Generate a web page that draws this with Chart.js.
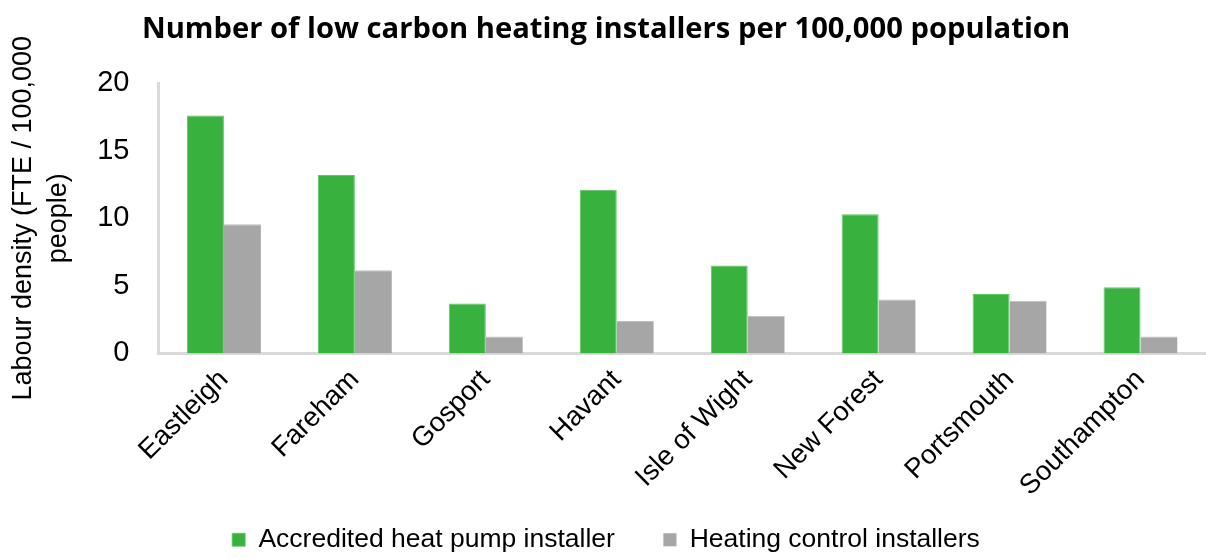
<html>
    <head>
        <meta charset="UTF-8">
        <title>Low carbon heating installers</title>
        <script src="https://cdn.jsdelivr.net/npm/chart.js"></script>
        <style>
            body { margin: 0; background: #ffffff; }
            .chart_container { width: 1206px; height: 559px; }
        </style>
    </head>
    <body>
        <div class='chart_container'>
            <canvas id='installers'></canvas>
        </div>
        <script>
            const areas = ['Eastleigh', 'Fareham', 'Gosport', 'Havant', 'Isle of Wight', 'New Forest', 'Portsmouth', 'Southampton'];
            const heatPump = [17.6, 13.2, 3.7, 12.1, 6.5, 10.3, 4.4, 4.9];
            const heatingControl = [9.55, 6.15, 1.25, 2.4, 2.8, 4.0, 3.9, 1.25];
            const yTicks = [0, 5, 10, 15, 20];

            const data = {
                labels: areas,
                datasets: [
                    {
                        label: 'Accredited heat pump installer',
                        data: heatPump,
                        backgroundColor: '#39b13f',
                        borderColor: '#5cc862',
                        borderWidth: { top: 1, left: 1, right: 1, bottom: 0 }
                    },
                    {
                        label: 'Heating control installers',
                        data: heatingControl,
                        backgroundColor: '#a6a6a6',
                        borderColor: '#bdbdbd',
                        borderWidth: { top: 1, left: 0, right: 0, bottom: 0 }
                    }
                ]
            };

            const config = {
                type: 'bar',
                data: data,
                options: {
                    responsive: true,
                    maintainAspectRatio: false,
                    animation: false,
                    layout: { padding: { left: 6, right: 0, top: 0, bottom: -4 } },
                    datasets: { bar: { barPercentage: 1.0, categoryPercentage: 0.565 } },
                    plugins: {
                        title: {
                            display: true,
                            text: 'Number of low carbon heating installers per 100,000 population',
                            color: '#000000',
                            font: { family: '"Open Sans", sans-serif', size: 29.2, weight: 'bold' },
                            padding: { top: 12, bottom: 36 }
                        },
                        legend: {
                            position: 'bottom',
                            labels: {
                                color: '#000000',
                                font: { family: '"Liberation Sans", Arial, sans-serif', size: 26.5 },
                                boxWidth: 13,
                                boxHeight: 13,
                                padding: 22,
                                // wider gap between the two entries, like the original
                                generateLabels: (chart) => {
                                    const items = Chart.defaults.plugins.legend.labels.generateLabels(chart);
                                    items[0].text = items[0].text + '\u2003';
                                    return items;
                                }
                            }
                        },
                        tooltip: { enabled: false }
                    },
                    scales: {
                        x: {
                            grid: { display: false },
                            border: { display: true, color: '#d9d9d9', width: 3 },
                            ticks: {
                                color: '#000000',
                                minRotation: 45,
                                maxRotation: 45,
                                padding: 2,
                                font: { family: '"Liberation Sans", Arial, sans-serif', size: 27.5 }
                            }
                        },
                        y: {
                            min: 0,
                            max: 20,
                            afterBuildTicks: (axis) => { axis.ticks = yTicks.map(v => ({ value: v })); },
                            grid: { display: false },
                            border: { display: true, color: '#d9d9d9', width: 3 },
                            ticks: {
                                color: '#000000',
                                padding: 21,
                                font: { family: '"Liberation Sans", Arial, sans-serif', size: 29 }
                            },
                            title: {
                                display: true,
                                text: ['Labour density (FTE / 100,000', 'people)'],
                                color: '#000000',
                                font: { family: '"Liberation Sans", Arial, sans-serif', size: 27, lineHeight: 1.3 },
                                padding: { top: 0, bottom: 0 }
                            }
                        }
                    }
                }
            };

            new Chart(document.getElementById('installers'), config);
        </script>
    </body>
</html>
